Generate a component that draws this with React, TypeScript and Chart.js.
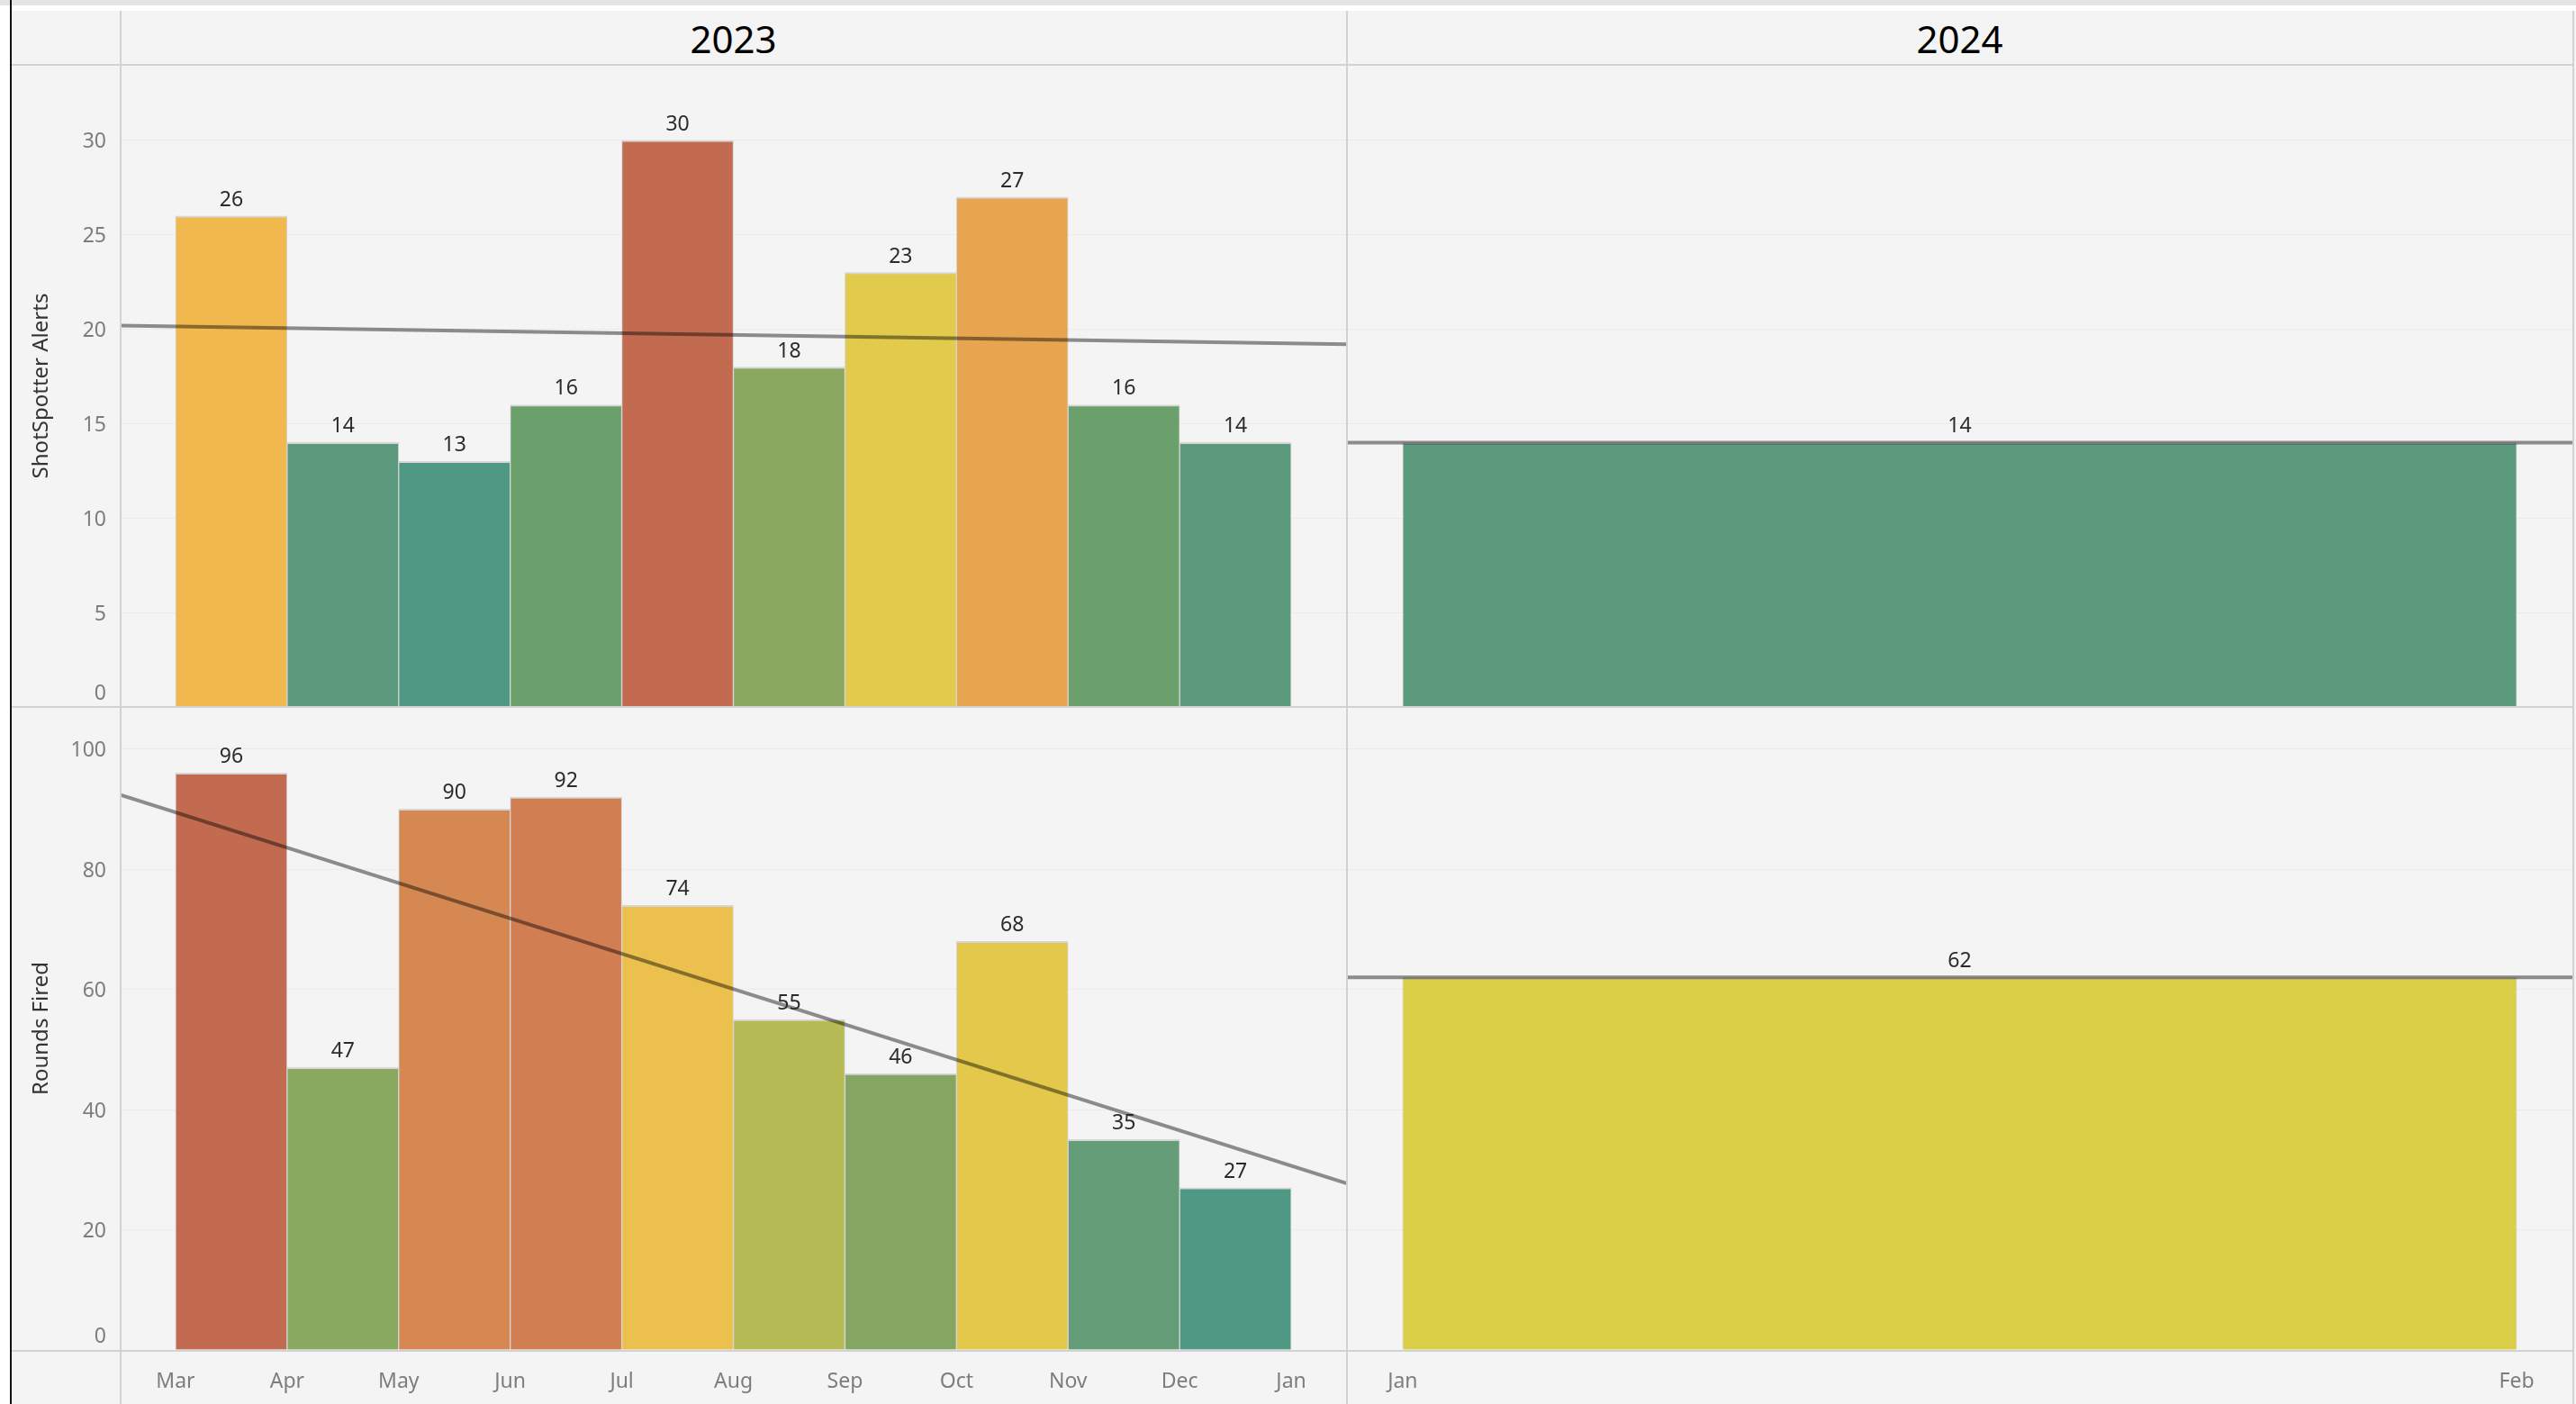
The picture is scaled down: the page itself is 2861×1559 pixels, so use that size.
import React, { useEffect, useRef } from "react";
import { Chart, registerables } from "chart.js";

Chart.register(...registerables);

// ---------------- data ----------------
const years = ["2023", "2024"];
const months2023 = ["Mar", "Apr", "May", "Jun", "Jul", "Aug", "Sep", "Oct", "Nov", "Dec"];
const months2024 = ["Jan"];
const xTickLabels2023 = ["Mar", "Apr", "May", "Jun", "Jul", "Aug", "Sep", "Oct", "Nov", "Dec", "Jan"];
const xTickLabels2024 = ["Jan", "Feb"];

const alerts2023 = [26, 14, 13, 16, 30, 18, 23, 27, 16, 14];
const alerts2024 = [14];
const rounds2023 = [96, 47, 90, 92, 74, 55, 46, 68, 35, 27];
const rounds2024 = [62];

// trend line values at the left and right edge of each pane
const alertsTrend2023 = [20.2, 19.2];
const alertsTrend2024 = [14, 14];
const roundsTrend2023 = [92.4, 27.7];
const roundsTrend2024 = [62, 62];

const alertsYTicks = [0, 5, 10, 15, 20, 25, 30];
const roundsYTicks = [0, 20, 40, 60, 80, 100];
const alertsYMax = 34;
const roundsYMax = 107;

const alertsColors2023 = ["#F1B84D", "#5C9A7D", "#4F9884", "#6B9F6C", "#C26B50", "#8AA860", "#E2CA4C", "#E8A550", "#6B9F6C", "#5C9A7D"];
const alertsColors2024 = ["#5C9A7D"];
const roundsColors2023 = ["#C26B50", "#89A860", "#D58851", "#D07E52", "#ECC04D", "#B6BB55", "#84A662", "#E3C84B", "#649D77", "#4F9884"];
const roundsColors2024 = ["#DBCF48"];

// ---------------- styling / layout ----------------
const FONT = '"Noto Sans", "Open Sans", "DejaVu Sans", sans-serif';
const W = 2861;
const H = 1559;
const FRAME_LEFT = 13;
const HEADER_TOP = 12;
const HEADER_BOTTOM = 72;
const ROW_MID = 785;
const ROW_BOTTOM = 1499;
const COL_Y = 133;
const COL_SPLIT = 1496;
const RIGHT = 2857;
const LINE = "#d2d2d2";
const BG = "#f4f4f4";

type PanelSpec = {
  categories: string[];
  values: number[];
  colors: string[];
  trend: number[];
  xTicks: string[];
  xPad: number;
  yTicks: number[];
  yMax: number;
  yTitle: string;
  showY: boolean;
  showX: boolean;
  left: number;
  top: number;
  width: number;
  height: number;
};

function Panel({ spec }: { spec: PanelSpec }) {
  const ref = useRef<HTMLCanvasElement | null>(null);
  useEffect(() => {
    const s = spec;
    const n = s.values.length;
    const yLabelPlugin = {
      id: "yLabels",
      afterDraw(chart: any) {
        if (!s.showY) return;
        const { ctx, chartArea } = chart;
        const ys = chart.scales.y;
        ctx.save();
        ctx.font = `23px ${FONT}`;
        ctx.fillStyle = "#7d7d7d";
        ctx.textAlign = "right";
        ctx.textBaseline = "middle";
        s.yTicks.forEach((t) => {
          let y = ys.getPixelForValue(t) + 2;
          y = Math.min(y, chartArea.bottom - 15);
          ctx.fillText(String(t), chartArea.left - 15, y);
        });
        ctx.restore();
      },
    };
    const valuePlugin = {
      id: "values",
      afterDatasetsDraw(chart: any) {
        const meta = chart.getDatasetMeta(1);
        const { ctx } = chart;
        ctx.save();
        ctx.font = `23px ${FONT}`;
        ctx.fillStyle = "#2b2b2b";
        ctx.textAlign = "center";
        ctx.textBaseline = "alphabetic";
        meta.data.forEach((el: any, i: number) => {
          ctx.fillText(String(s.values[i]), el.x, el.y - 11);
        });
        ctx.restore();
      },
    };
    const chart = new Chart(ref.current as HTMLCanvasElement, {
      type: "bar",
      data: {
        labels: s.categories,
        datasets: [
          {
            type: "line",
            data: [
              { x: -s.xPad, y: s.trend[0] },
              { x: n + s.xPad, y: s.trend[1] },
            ],
            borderColor: "rgba(0,0,0,0.43)",
            borderWidth: 4,
            pointRadius: 0,
            fill: false,
            tension: 0,
            order: 0,
          } as any,
          {
            type: "bar",
            data: s.values.map((v, i) => ({ x: i + 0.5, y: v })),
            backgroundColor: s.colors,
            borderColor: "#d6d6d6",
            borderWidth: { top: 2, left: 1, right: 1, bottom: 0 },
            barPercentage: 1,
            categoryPercentage: 1,
            order: 1,
          } as any,
        ],
      },
      options: {
        animation: false,
        responsive: false,
        layout: { padding: 0 },
        plugins: {
          legend: { display: false },
          tooltip: { enabled: false },
          title: { display: false },
        },
        scales: {
          x: {
            type: "linear",
            offset: false,
            min: -s.xPad,
            max: n + s.xPad,
            grid: { display: false, offset: false },
            border: { display: false },
            afterBuildTicks: (sc: any) => {
              sc.ticks = s.xTicks.map((_, i) => ({ value: i }));
            },
            afterFit: (sc: any) => {
              sc.height = s.showX ? 60 : 0;
              sc.paddingLeft = 0;
              sc.paddingRight = 0;
            },
            ticks: {
              display: s.showX,
              autoSkip: false,
              maxRotation: 0,
              minRotation: 0,
              padding: 14,
              color: "#7d7d7d",
              font: { family: FONT, size: 23 },
              callback: (_v: any, i: number) => s.xTicks[i],
            },
          } as any,
          y: {
            type: "linear",
            min: 0,
            max: s.yMax,
            afterBuildTicks: (sc: any) => {
              sc.ticks = s.yTicks.map((v) => ({ value: v }));
            },
            afterFit: (sc: any) => {
              sc.width = s.showY ? 120 : 0;
              sc.paddingTop = 0;
              sc.paddingBottom = 0;
            },
            grid: { color: "rgba(0,0,0,0.035)", lineWidth: 1, drawTicks: false },
            border: { display: false },
            ticks: { display: false },
            title: {
              display: s.showY,
              text: s.yTitle,
              color: "#333333",
              font: { family: FONT, size: 24 },
              padding: { top: 19, bottom: 0 },
            },
          } as any,
        },
      },
      plugins: [yLabelPlugin, valuePlugin],
    });
    return () => chart.destroy();
  }, [spec]);
  return (
    <canvas
      ref={ref}
      width={spec.width}
      height={spec.height}
      style={{ position: "absolute", left: spec.left, top: spec.top, width: spec.width, height: spec.height }}
    />
  );
}

const panels: PanelSpec[] = [
  {
    categories: months2023, values: alerts2023, colors: alertsColors2023, trend: alertsTrend2023,
    xTicks: xTickLabels2023, xPad: 0.5, yTicks: alertsYTicks, yMax: alertsYMax, yTitle: "ShotSpotter Alerts",
    showY: true, showX: false, left: FRAME_LEFT, top: HEADER_BOTTOM, width: COL_SPLIT - FRAME_LEFT, height: ROW_MID - HEADER_BOTTOM,
  },
  {
    categories: months2024, values: alerts2024, colors: alertsColors2024, trend: alertsTrend2024,
    xTicks: xTickLabels2024, xPad: 0.05, yTicks: alertsYTicks, yMax: alertsYMax, yTitle: "ShotSpotter Alerts",
    showY: false, showX: false, left: COL_SPLIT, top: HEADER_BOTTOM, width: RIGHT - COL_SPLIT, height: ROW_MID - HEADER_BOTTOM,
  },
  {
    categories: months2023, values: rounds2023, colors: roundsColors2023, trend: roundsTrend2023,
    xTicks: xTickLabels2023, xPad: 0.5, yTicks: roundsYTicks, yMax: roundsYMax, yTitle: "Rounds Fired",
    showY: true, showX: true, left: FRAME_LEFT, top: ROW_MID, width: COL_SPLIT - FRAME_LEFT, height: H - ROW_MID,
  },
  {
    categories: months2024, values: rounds2024, colors: roundsColors2024, trend: roundsTrend2024,
    xTicks: xTickLabels2024, xPad: 0.05, yTicks: roundsYTicks, yMax: roundsYMax, yTitle: "Rounds Fired",
    showY: false, showX: true, left: COL_SPLIT, top: ROW_MID, width: RIGHT - COL_SPLIT, height: H - ROW_MID,
  },
];

function Line({ x, y, w, h, c }: { x: number; y: number; w: number; h: number; c: string }) {
  return <div style={{ position: "absolute", left: x, top: y, width: w, height: h, background: c, zIndex: 3 }} />;
}

export default function App() {
  return (
    <div style={{ position: "absolute", left: 0, top: 0, width: W, height: H, background: "#ffffff", overflow: "hidden", fontFamily: FONT }}>
      <div style={{ position: "absolute", left: 0, top: 0, width: W, height: 6, background: "#e4e4e4" }} />
      <div style={{ position: "absolute", left: FRAME_LEFT, top: HEADER_TOP, width: W - FRAME_LEFT, height: H - HEADER_TOP, background: BG }} />
      {years.map((yr, i) => (
        <div
          key={yr}
          style={{
            position: "absolute",
            left: i === 0 ? COL_Y : COL_SPLIT,
            width: i === 0 ? COL_SPLIT - COL_Y : RIGHT - COL_SPLIT,
            top: HEADER_TOP,
            height: HEADER_BOTTOM - HEADER_TOP,
            display: "flex",
            alignItems: "center",
            justifyContent: "center",
            fontSize: 42,
            color: "#000",
            zIndex: 2,
          }}
        >
          {yr}
        </div>
      ))}
      {panels.map((p, i) => (
        <Panel key={i} spec={p} />
      ))}
      <Line x={11} y={0} w={2} h={H} c="#111" />
      <Line x={COL_Y} y={HEADER_TOP} w={2} h={H - HEADER_TOP} c={LINE} />
      <Line x={COL_SPLIT - 1} y={HEADER_TOP} w={2} h={H - HEADER_TOP} c={LINE} />
      <Line x={RIGHT} y={HEADER_TOP} w={2} h={H - HEADER_TOP} c={LINE} />
      <Line x={FRAME_LEFT} y={HEADER_BOTTOM - 1} w={RIGHT - FRAME_LEFT} h={2} c={LINE} />
      <Line x={FRAME_LEFT} y={ROW_MID - 1} w={RIGHT - FRAME_LEFT} h={2} c={LINE} />
      <Line x={FRAME_LEFT} y={ROW_BOTTOM} w={RIGHT - FRAME_LEFT} h={2} c={LINE} />
    </div>
  );
}
